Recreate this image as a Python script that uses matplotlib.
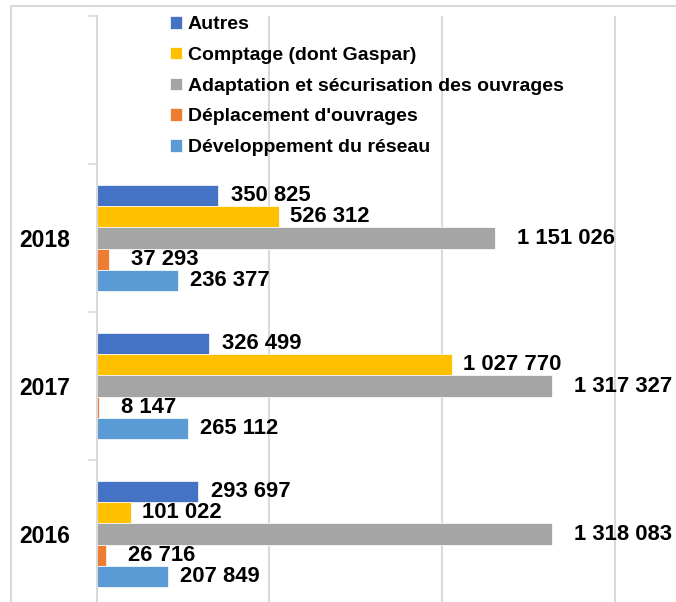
import matplotlib.pyplot as plt
import numpy as np
from matplotlib.patches import Rectangle

# Montants par nature de dépense et par année
YEARS = ["2016", "2017", "2018"]
SERIES = [
    "Autres",
    "Comptage (dont Gaspar)",
    "Adaptation et sécurisation des ouvrages",
    "Déplacement d'ouvrages",
    "Développement du réseau",
]
AUTRES = [293697, 326499, 350825]
COMPTAGE = [101022, 1027770, 526312]
ADAPTATION = [1318083, 1317327, 1151026]
DEPLACEMENT = [26716, 8147, 37293]
DEVELOPPEMENT = [207849, 265112, 236377]

COLORS = ["#4472C4", "#FFC000", "#A5A5A5", "#ED7D31", "#5B9BD5"]
LABEL_GAP = [13, 11, 22, 22, 12]  # pixels between bar end and value label
GRID = "#d9d9d9"

plt.rcParams["font.family"] = ["Liberation Sans", "DejaVu Sans"]

fig = plt.figure(figsize=(6.76, 6.02), dpi=100)

# light frame of the chart area
fig.add_artist(Rectangle((11 / 676, -0.1), 1.2, (602 - 6) / 602 + 0.1,
                         transform=fig.transFigure, fill=False,
                         edgecolor=GRID, linewidth=1.5))

ax = fig.add_axes([96.5 / 676, -6 / 602, 1 - 96.5 / 676, 592 / 602])

values = [AUTRES, COMPTAGE, ADAPTATION, DEPLACEMENT, DEVELOPPEMENT]
y = np.arange(len(YEARS))
h = 0.1424
for i, (name, vals) in enumerate(zip(SERIES, values)):
    ypos = y + (2 - i) * h
    ax.barh(ypos, vals, height=h, color=COLORS[i], label=name,
            edgecolor="white", linewidth=0.5, zorder=3)
    for yy, v in zip(ypos, vals):
        ax.annotate(f"{v:,}".replace(",", " "), (v, yy),
                    xytext=(LABEL_GAP[i], 0), textcoords="offset pixels",
                    ha="left", va="center", fontsize=15.8,
                    fontweight="bold", zorder=4)

ax.set_ylim(-0.5, 3.5)
ax.set_xlim(0, 1.6758e6)

# category boundaries carry the tick marks, year labels sit in between
ax.set_yticks(np.arange(-0.5, 4.0, 1.0))
ax.set_yticklabels([])
ax.set_yticks(y, minor=True)
ax.set_yticklabels(YEARS, minor=True, fontsize=16.5, fontweight="bold")
ax.tick_params(axis="y", which="major", length=6.5, width=1.2, color=GRID)
ax.tick_params(axis="y", which="minor", length=0, pad=19)

ax.set_xticks([0, 500000, 1000000, 1500000])
ax.tick_params(axis="x", length=0, labelbottom=False)
ax.grid(axis="x", color=GRID, linewidth=1.5, zorder=0)

for side in ["top", "right", "bottom"]:
    ax.spines[side].set_visible(False)
ax.spines["left"].set_color(GRID)
ax.spines["left"].set_linewidth(1.5)
ax.spines["left"].set_zorder(5)

leg = ax.legend(loc="upper left", bbox_to_anchor=(170 / 676, 1 - 16 / 602),
                bbox_transform=fig.transFigure, frameon=False,
                prop={"size": 14, "weight": "bold"},
                handlelength=0.62, handleheight=0.62, handletextpad=0.3,
                labelspacing=0.70, borderpad=0, borderaxespad=0)
leg.set_zorder(6)

fig.savefig("out.png", dpi=100)
